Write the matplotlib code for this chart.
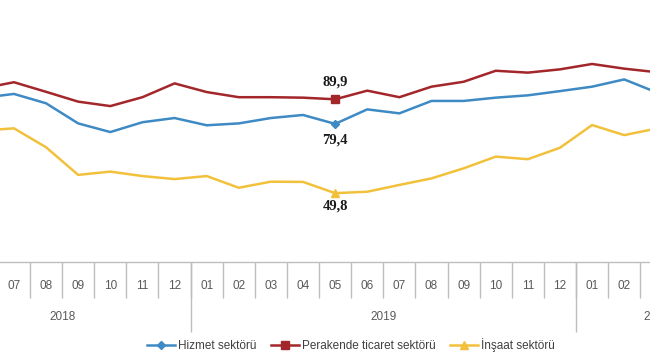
import numpy as np
import matplotlib
matplotlib.use("Agg")
import matplotlib.pyplot as plt
import matplotlib.transforms as mtransforms

plt.rcParams['font.family'] = ['Liberation Sans', 'DejaVu Sans']

# Data (2018-06 .. 2020-03)
months = ['06', '07', '08', '09', '10', '11', '12',
          '01', '02', '03', '04', '05', '06', '07', '08', '09', '10', '11', '12',
          '01', '02', '03']
hizmet = [90.5, 92.2, 88.2, 79.6, 75.9, 80.1, 81.9,
          78.8, 79.6, 81.9, 83.2, 79.4, 85.6, 83.9, 89.2, 89.2, 90.6, 91.6, 93.4,
          95.3, 98.4, 92.9]
perakende = [94.5, 97.2, 93.1, 88.9, 87.0, 90.8, 96.7,
             93.0, 90.8, 90.8, 90.6, 89.9, 93.6, 90.8, 95.3, 97.4, 102.1, 101.3, 102.7,
             105.0, 103.0, 101.5]
insaat = [76.5, 77.5, 69.4, 57.6, 59.0, 57.1, 55.8,
          57.1, 52.1, 54.7, 54.6, 49.8, 50.4, 53.3, 56.1, 60.4, 65.4, 64.3, 69.2,
          78.9, 74.6, 77.4]
years = ['2018', '2019', '2020']
series_names = ['Hizmet sektörü', 'Perakende ticaret sektörü', 'İnşaat sektörü']
label_month_idx = 11  # 2019-05

x = np.arange(len(months)) - 1

c_blue = '#3E8AC4'
c_red = '#A3262B'
c_yel = '#F2C13C'
c_grid = '#BDBDBD'

fig = plt.figure(figsize=(6.5, 3.6), dpi=100)
ax = fig.add_axes([0, (360 - 262) / 360, 1, 262 / 360])

mk_idx = [label_month_idx]
ax.plot(x, hizmet, color=c_blue, lw=1.8, marker='D', ms=4.5, markevery=mk_idx, label=series_names[0])
ax.plot(x, perakende, color=c_red, lw=1.8, marker='s', ms=6, markevery=mk_idx, label=series_names[1])
ax.plot(x, insaat, color=c_yel, lw=1.8, marker='^', ms=6, markevery=mk_idx, label=series_names[2])

xl = x[label_month_idx]
fmt = lambda v: f"{v:.1f}".replace('.', ',')
lab_font = dict(family=['Liberation Serif'], weight='bold', fontsize=10.5, color='#1a1a1a',
                ha='center', va='center')
ax.annotate(fmt(perakende[label_month_idx]), (xl, perakende[label_month_idx]),
            xytext=(0, 17), textcoords='offset pixels', **lab_font)
ax.annotate(fmt(hizmet[label_month_idx]), (xl, hizmet[label_month_idx]),
            xytext=(0, -16), textcoords='offset pixels', **lab_font)
ax.annotate(fmt(insaat[label_month_idx]), (xl, insaat[label_month_idx]),
            xytext=(0, -13), textcoords='offset pixels', **lab_font)

for s in ['top', 'left', 'right']:
    ax.spines[s].set_visible(False)
ax.spines['bottom'].set_color(c_grid)
ax.spines['bottom'].set_linewidth(1.0)
ax.set_yticks([])

# month boundaries (major ticks) and labels (minor)
ax.set_xticks(np.arange(-1, len(months)) - 0.5)
ax.tick_params(axis='x', which='major', length=26, width=1.0, color=c_grid, labelbottom=False)
ax.set_xticks(x, minor=True)
ax.set_xticklabels(months, minor=True)
ax.tick_params(axis='x', which='minor', length=0, pad=13, labelsize=8.5, labelcolor='#595959')

# year boundaries
sec = ax.secondary_xaxis('bottom')
sec.set_xticks([5.5, 17.5])
sec.set_xticklabels([])
sec.tick_params(axis='x', length=50.5, width=1.0, color=c_grid)
sec.spines['bottom'].set_visible(False)

# scales (set after ticks so they are not expanded)
x0 = (0 - 13.94) / 32.12
x1 = (650 - 13.94) / 32.12
ax.set_xlim(x0, x1)
ax.set_ylim(20.37, 132.34)

trans = mtransforms.blended_transform_factory(ax.transData, ax.transAxes)
# last month label, partly beyond the right edge as in the reference
ax.text(x[-1], -20 / 262, months[-1], transform=trans, ha='center', va='center',
        fontsize=8.5, color='#595959', clip_on=False)
year_centers = [1.5, 11.5, 20.0]
for yl, xc in zip(years, year_centers):
    ax.text(xc, -55 / 262, yl, transform=trans, ha='center', va='center',
            fontsize=8.5, color='#595959', clip_on=False)

fig.legend(loc='center', bbox_to_anchor=(351 / 650, 1 - 345 / 360), ncol=3, frameon=False,
           fontsize=8.5, handlelength=2.4, handletextpad=0.25, columnspacing=1.2,
           labelcolor='#404040')

fig.savefig('out.png', dpi=100)
